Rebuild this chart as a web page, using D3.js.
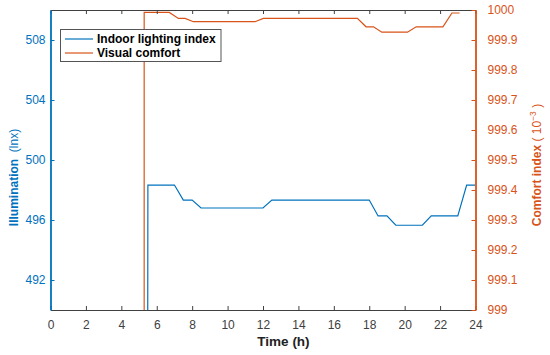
<!DOCTYPE html>
<html>
<head>
<meta charset="utf-8">
<script src="https://cdn.jsdelivr.net/npm/d3@7"></script>
<style>
  body { margin: 0; background: #fff; }
  text { font-family: "Liberation Sans", Arial, sans-serif; }
</style>
</head>
<body>
<div id="chart"></div>
<script>
// Indoor lighting index (left axis, lx)
var lightTime  = [0, 5, 5.5, 7, 7.5, 8, 8.5, 12, 12.5, 18, 18.5, 19, 19.5, 21, 21.5, 23, 23.5, 24];
var lightValue = [0, 0, 498.33, 498.33, 497.33, 497.33, 496.8, 496.8, 497.33, 497.33,
                  496.27, 496.27, 495.65, 495.65, 496.27, 496.27, 498.33, 498.33];

// Visual comfort (right axis, x 10^-3)
var comfortTime  = [0, 4.81, 5.29, 6.71, 7.22, 7.6, 8.07, 11.55, 12.02, 17.33, 17.82,
                    18.24, 18.71, 20.16, 20.65, 22.16, 22.67, 23.1];
var comfortValue = [0, 0, 999.992, 999.992, 999.972, 999.972, 999.961, 999.961, 999.972,
                    999.972, 999.944, 999.944, 999.926, 999.926, 999.944, 999.944, 999.99, 999.99];

var timeTicks    = [0, 2, 4, 6, 8, 10, 12, 14, 16, 18, 20, 22, 24];
var lightTicks   = [492, 496, 500, 504, 508];
var comfortTicks = [999, 999.1, 999.2, 999.3, 999.4, 999.5, 999.6, 999.7, 999.8, 999.9, 1000];
var seriesNames  = ["Indoor lighting index", "Visual comfort"];

var width = 550, height = 355;
var plotL = 50.5, plotR = 475.5, plotT = 10, plotB = 310;
var blue = "#0072BD", orange = "#D95319", axisGray = "#404040";

var svg = d3.select("#chart")
    .append("svg")
    .attr("width", width)
    .attr("height", height);

var x  = d3.scaleLinear().domain([0, 24]).range([plotL, plotR]);
var yL = d3.scaleLinear().domain([490, 510]).range([plotB, plotT]);
var yR = d3.scaleLinear().domain([999, 1000]).range([plotB, plotT]);

svg.append("clipPath").attr("id", "plot")
    .append("rect")
    .attr("x", plotL).attr("y", plotT)
    .attr("width", plotR - plotL).attr("height", plotB - plotT);

// lines
var lightLine = d3.line()
    .x(function(d, i) { return x(lightTime[i]); })
    .y(function(d) { return yL(d); });
var comfortLine = d3.line()
    .x(function(d, i) { return x(comfortTime[i]); })
    .y(function(d) { return yR(d); });

var plot = svg.append("g").attr("clip-path", "url(#plot)");
plot.append("path")
    .datum(lightValue)
    .attr("d", lightLine)
    .attr("fill", "none")
    .attr("stroke", blue)
    .attr("stroke-width", 1.2);
plot.append("path")
    .datum(comfortValue)
    .attr("d", comfortLine)
    .attr("fill", "none")
    .attr("stroke", orange)
    .attr("stroke-width", 1.2);

// axes
function styleAxis(g, color) {
    g.selectAll(".domain").attr("stroke", color).attr("stroke-width", 1.2);
    g.selectAll(".tick line").attr("stroke", color);
    g.selectAll(".tick text").attr("fill", color).style("font-size", "12px");
}

svg.append("g")
    .attr("transform", "translate(0," + plotT + ")")
    .call(d3.axisTop(x).tickValues(timeTicks).tickSize(-4).tickSizeOuter(0).tickFormat(""))
    .call(styleAxis, axisGray);

svg.append("g")
    .attr("transform", "translate(0," + plotB + ")")
    .call(d3.axisBottom(x).tickValues(timeTicks).tickSize(-4).tickSizeOuter(0).tickPadding(10))
    .call(styleAxis, axisGray);

svg.append("g")
    .attr("transform", "translate(" + plotL + ",0)")
    .call(d3.axisLeft(yL).tickValues(lightTicks).tickSize(-4).tickSizeOuter(0).tickPadding(5))
    .call(styleAxis, blue)
    .selectAll(".domain").attr("stroke-width", 1.8);

svg.append("g")
    .attr("transform", "translate(" + plotR + ",0)")
    .call(d3.axisRight(yR).tickValues(comfortTicks).tickSize(-4).tickSizeOuter(0).tickPadding(12)
        .tickFormat(function(d) { return (d === 999 || d === 1000) ? String(d) : d.toFixed(1); }))
    .call(styleAxis, orange)
    .selectAll(".domain").attr("stroke-width", 1.8);

// axis titles
svg.append("text")
    .attr("x", 283.5).attr("y", 346)
    .attr("text-anchor", "middle")
    .style("font-size", "13.5px")
    .style("font-weight", "bold")
    .attr("fill", "#222")
    .text("Time (h)");

var ly = svg.append("text")
    .attr("transform", "translate(17.5,177.5) rotate(-90)")
    .attr("text-anchor", "middle")
    .style("font-size", "12px")
    .attr("fill", blue);
ly.append("tspan").style("font-weight", "bold").text("Illumination");
ly.append("tspan").attr("xml:space", "preserve").text("  (lnx)");

var ry = svg.append("text")
    .attr("transform", "translate(541,165) rotate(-90)")
    .attr("text-anchor", "middle")
    .style("font-size", "12px")
    .attr("fill", orange);
ry.append("tspan").style("font-weight", "bold").text("Comfort index");
ry.append("tspan").attr("xml:space", "preserve").text(" ( 10");
ry.append("tspan").attr("dy", -5).style("font-size", "8.5px").text("\u22123");
ry.append("tspan").attr("dy", 5).attr("xml:space", "preserve").text(" )");

// legend
var legend = svg.append("g");
legend.append("rect")
    .attr("x", 60.5).attr("y", 29.5)
    .attr("width", 160.5).attr("height", 32)
    .attr("fill", "#fff")
    .attr("stroke", "#555");
var legendColors = [blue, orange];
var items = legend.selectAll(".item")
    .data(seriesNames)
    .enter()
    .append("g")
    .attr("transform", function(d, i) { return "translate(0," + (39 + i * 14) + ")"; });
items.append("line")
    .attr("x1", 65).attr("x2", 93)
    .attr("stroke", function(d, i) { return legendColors[i]; })
    .attr("stroke-width", 1.2);
items.append("text")
    .attr("x", 97).attr("y", 4.3)
    .style("font-size", "12px")
    .style("font-weight", "bold")
    .attr("fill", "#000")
    .text(function(d) { return d; });
</script>
</body>
</html>
